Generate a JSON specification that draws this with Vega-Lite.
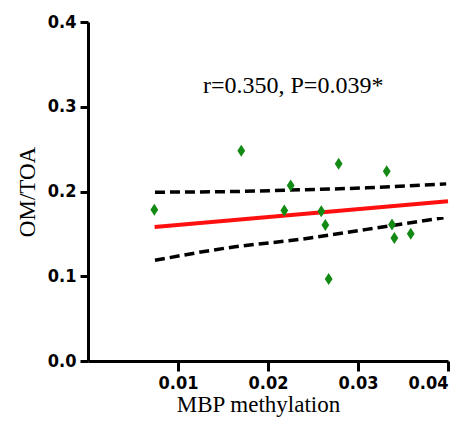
{
  "$schema": "https://vega.github.io/schema/vega-lite/v6.json",
  "width": 360,
  "height": 339,
  "autosize": "none",
  "padding": {"left": 88, "top": 22, "right": 21, "bottom": 68},
  "background": "white",
  "config": {"view": {"stroke": null}},
  "datasets": {
    "points": [
      {"mbp": 0.00737, "om": 0.1785},
      {"mbp": 0.01703, "om": 0.248},
      {"mbp": 0.02785, "om": 0.2326},
      {"mbp": 0.03319, "om": 0.2239},
      {"mbp": 0.02252, "om": 0.2071},
      {"mbp": 0.02181, "om": 0.1776},
      {"mbp": 0.02592, "om": 0.1768},
      {"mbp": 0.02637, "om": 0.1604},
      {"mbp": 0.03378, "om": 0.1612},
      {"mbp": 0.03404, "om": 0.1451},
      {"mbp": 0.03586, "om": 0.1502},
      {"mbp": 0.02674, "om": 0.0968}
    ],
    "fit": [
      {"mbp": 0.0074, "om": 0.158},
      {"mbp": 0.04, "om": 0.1885}
    ],
    "upper": [
      {"mbp": 0.00744, "om": 0.1992},
      {"mbp": 0.01615, "om": 0.2},
      {"mbp": 0.02356, "om": 0.202},
      {"mbp": 0.03096, "om": 0.2043},
      {"mbp": 0.0398, "om": 0.209}
    ],
    "lower": [
      {"mbp": 0.00744, "om": 0.1188},
      {"mbp": 0.01615, "om": 0.1345},
      {"mbp": 0.02356, "om": 0.1435},
      {"mbp": 0.03096, "om": 0.1553},
      {"mbp": 0.0395, "om": 0.1691}
    ],
    "note": [
      {"mbp": 0.0228, "om": 0.3247, "label": "r=0.350, P=0.039*"}
    ]
  },
  "encoding": {
    "x": {
      "field": "mbp", "type": "quantitative",
      "scale": {"domain": [0, 0.04], "nice": false, "zero": false},
      "axis": {
        "title": "MBP methylation",
        "titleX": 170,
        "values": [0.01, 0.02, 0.03, 0.04],
        "format": ".2f",
        "grid": false,
        "domainColor": "black", "domainWidth": 3,
        "tickColor": "black", "tickWidth": 3, "tickSize": 10,
        "labelFont": "'Liberation Sans Narrow', 'DejaVu Sans Condensed', 'Roboto Condensed', sans-serif", "labelFontWeight": "bold", "labelFontSize": 18, "labelColor": "black", "labelPadding": 3,
        "titleFont": "Liberation Serif", "titleFontWeight": "normal", "titleFontSize": 23, "titleColor": "black", "titlePadding": 1
      }
    },
    "y": {
      "field": "om", "type": "quantitative",
      "scale": {"domain": [0, 0.4], "nice": false},
      "axis": {
        "title": "OM/TOA",
        "values": [0, 0.1, 0.2, 0.3, 0.4],
        "format": ".1f",
        "grid": false,
        "domainColor": "black", "domainWidth": 3,
        "tickColor": "black", "tickWidth": 3, "tickSize": 8,
        "labelFont": "'Liberation Sans Narrow', 'DejaVu Sans Condensed', 'Roboto Condensed', sans-serif", "labelFontWeight": "bold", "labelFontSize": 18, "labelColor": "black", "labelPadding": 4,
        "titleFont": "Liberation Serif", "titleFontWeight": "normal", "titleFontSize": 23, "titleColor": "black", "titlePadding": 8
      }
    }
  },
  "layer": [
    {
      "data": {"name": "upper"},
      "mark": {"type": "line", "color": "black", "strokeWidth": 3.5, "strokeDash": [10, 5], "strokeCap": "butt", "interpolate": "monotone"}
    },
    {
      "data": {"name": "lower"},
      "mark": {"type": "line", "color": "black", "strokeWidth": 3.5, "strokeDash": [10, 5], "strokeCap": "butt", "interpolate": "monotone"}
    },
    {
      "data": {"name": "fit"},
      "mark": {"type": "line", "color": "#ff1010", "strokeWidth": 4}
    },
    {
      "data": {"name": "points"},
      "mark": {"type": "point", "shape": "M0,-1L0.65,0L0,1L-0.65,0Z", "size": 144, "filled": true, "color": "#138a13", "opacity": 1}
    },
    {
      "data": {"name": "note"},
      "mark": {"type": "text", "font": "Liberation Serif", "fontSize": 24, "color": "black", "align": "center", "baseline": "middle"},
      "encoding": {"text": {"field": "label"}}
    }
  ]
}
